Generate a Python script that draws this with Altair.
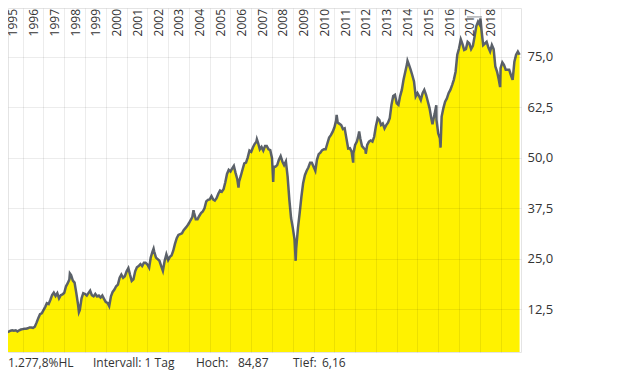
import altair as alt
import pandas as pd
from datetime import datetime, timezone

# ---- data (monthly, index level) ----
start_value = 6.5  # Dec 1994
values_by_year = {
    1995: [6.4, 6.6, 6.7, 6.8, 7.0, 7.2, 7.3, 7.2, 7.3, 7.0, 7.3, 7.5],
    1996: [7.6, 7.7, 7.7, 7.8, 8.0, 8.0, 7.9, 8.2, 9.2, 10.3, 11.3, 11.5],
    1997: [12.3, 13.1, 14.0, 13.8, 14.8, 16.0, 16.6, 15.8, 16.5, 15.2, 16.0, 16.2],
    1998: [16.6, 18.2, 18.9, 19.9, 21.0, 19.6, 19.1, 16.5, 13.6, 12.3, 15.2, 16.5],
    1999: [16.3, 15.9, 16.5, 17.1, 16.0, 15.7, 16.3, 15.7, 15.9, 15.4, 15.9, 15.1],
    2000: [14.3, 14.1, 13.3, 15.7, 16.8, 17.4, 18.2, 18.6, 20.3, 21.1, 20.3, 20.7],
    2001: [21.9, 22.7, 21.1, 19.5, 19.9, 21.9, 22.9, 23.2, 23.7, 23.2, 24.0, 24.0],
    2002: [23.6, 22.8, 25.3, 26.8, 26.8, 25.3, 24.9, 24.5, 23.2, 22.0, 24.5, 26.1],
    2003: [24.7, 25.5, 25.8, 27.0, 28.7, 30.1, 30.9, 31.1, 31.3, 32.1, 32.6, 33.1],
    2004: [33.8, 34.6, 35.3, 36.4, 34.8, 34.8, 35.6, 36.3, 36.7, 37.5, 39.2, 39.6],
    2005: [39.7, 40.5, 39.7, 39.4, 40.0, 41.1, 41.9, 41.6, 42.2, 43.9, 46.0, 47.0],
    2006: [46.6, 47.4, 48.0, 46.2, 44.7, 44.1, 45.5, 47.1, 48.6, 48.8, 50.1, 51.8],
    2007: [51.5, 52.6, 53.4, 54.0, 53.7, 52.1, 52.7, 51.8, 52.9, 52.9, 52.1, 51.9],
    2008: [49.9, 47.8, 47.8, 48.2, 49.5, 50.4, 49.1, 48.2, 49.1, 45.4, 39.6, 35.1],
    2009: [32.6, 29.7, 27.6, 32.6, 36.3, 40.4, 43.7, 45.7, 46.8, 47.6, 48.8, 48.8],
    2010: [47.8, 46.8, 49.5, 50.9, 51.3, 51.9, 52.1, 52.1, 53.6, 55.0, 55.6, 56.4],
    2011: [57.5, 59.2, 58.7, 58.4, 58.1, 57.1, 57.3, 54.8, 52.3, 52.4, 51.5, 51.1],
    2012: [53.2, 54.0, 55.6, 54.8, 52.9, 52.4, 52.0, 53.2, 54.0, 54.3, 54.0, 55.2],
    2013: [57.9, 59.8, 59.4, 58.1, 58.5, 57.3, 58.1, 58.7, 59.8, 63.1, 65.3, 65.6],
    2014: [63.5, 63.1, 65.2, 66.8, 69.3, 71.3, 73.2, 73.2, 71.9, 70.5, 68.9, 65.2],
    2015: [66.0, 65.2, 64.3, 66.0, 66.8, 65.6, 64.0, 62.3, 59.8, 59.0, 61.0, 59.4],
    2016: [56.0, 54.8, 60.2, 62.3, 63.9, 64.7, 66.0, 66.8, 68.0, 69.3, 71.3, 75.5],
    2017: [77.1, 79.3, 78.2, 76.7, 76.9, 78.7, 78.3, 76.9, 77.7, 80.0, 82.6, 83.7],
    2018: [82.9, 81.5, 77.9, 78.3, 78.7, 77.3, 76.3, 77.9, 76.9, 72.6, 71.3, 69.3],
    2019: [72.2, 73.6, 73.0, 71.8, 71.8, 71.8, 70.5, 69.3, 73.8, 75.5, 76.3, 75.5],
}
# intra-month peaks and troughs
extreme_dates = ["1998-04-10", "1998-09-16", "2002-04-20", "2004-03-22", "2006-05-22",
                 "2007-04-10", "2008-01-22", "2009-02-20", "2011-02-10", "2011-11-28",
                 "2012-03-12", "2012-07-06", "2014-07-10", "2015-09-22", "2015-11-28",
                 "2016-02-11", "2018-01-12", "2018-12-24"]
extreme_values = [21.4, 11.8, 27.5, 37.0, 42.6,
                  54.6, 44.0, 24.5, 60.6, 48.8,
                  56.5, 51.0, 74.0, 58.3, 63.0,
                  52.5, 84.5, 67.5]
year_labels = list(range(1995, 2019))
grid_years = list(range(1996, 2020))
y_ticks = [12.5, 25.0, 37.5, 50.0, 62.5, 75.0]
high_value = 84.87
high_span = ["2017-05-20", "2018-02-08"]
footer_texts = ["1.277,8%HL", "Intervall: 1 Tag", "Hoch:", "84,87", "Tief:", "6,16"]

# ---- build table ----
dates = ["1994-12-01"]
vals = [start_value]
for yr, arr in values_by_year.items():
    for i, v in enumerate(arr):
        dates.append(f"{yr}-{i + 1:02d}-01")
        vals.append(v)
dates += extreme_dates
vals += extreme_values
df = pd.DataFrame({"date": dates, "value": vals}).sort_values("date").reset_index(drop=True)


def ms(y, m, d):
    return int(datetime(y, m, d, tzinfo=timezone.utc).timestamp() * 1000)


x_domain = [ms(1995, 4, 18), ms(2019, 12, 26)]
y_domain = [1.93, 87.08]

FONT = "Open Sans"
TXT = "#333333"

xscale = alt.Scale(domain=x_domain)
yscale = alt.Scale(domain=y_domain, zero=False, nice=False)

x_axis = alt.Axis(values=[ms(y, 1, 1) for y in grid_years], labels=False, ticks=False,
                  domain=False, title=None, grid=True, gridColor="#000000",
                  gridOpacity=0.075, zindex=1)
y_axis = alt.Axis(orient="right", values=y_ticks, ticks=False, domain=False, title=None,
                  grid=True, gridColor="#000000", gridOpacity=0.075, zindex=1,
                  labelExpr="replace(format(datum.value, '.1f'), '.', ',')",
                  labelFont=FONT, labelFontSize=13, labelColor=TXT, labelPadding=6)

X = alt.X("date:T", scale=xscale, axis=x_axis)
Y = alt.Y("value:Q", scale=yscale, axis=y_axis)

area = alt.Chart(df).mark_area(color="#fff200", clip=True).encode(x=X, y=Y)
line = alt.Chart(df).mark_line(color="#5b6169", strokeWidth=2.5, clip=True).encode(x=X, y=Y)

hi_df = pd.DataFrame({"date": [high_span[0]], "d2": [high_span[1]], "value": [high_value]})
hi_rule = alt.Chart(hi_df).mark_rule(color="#8a8f95", strokeWidth=1).encode(
    x=X, x2="d2:T", y=Y,
)

ylab_df = pd.DataFrame({"date": [f"{y}-07-01" for y in year_labels],
                        "t": [str(y) for y in year_labels]})
year_text = alt.Chart(ylab_df).mark_text(
    angle=270, align="right", baseline="middle", font=FONT, fontSize=12, color=TXT,
    xOffset=1
).encode(
    x=X,
    y=alt.value(1),
    text="t:N",
)

footer_x = [0, 85, 188, 230, 285, 314]
footer_layers = []
for t, xx in zip(footer_texts, footer_x):
    footer_layers.append(
        alt.Chart(pd.DataFrame({"t": [t]})).mark_text(
            align="left", baseline="alphabetic", font=FONT, fontSize=12, color=TXT
        ).encode(x=alt.value(xx), y=alt.value(359), text="t:N")
    )

chart = alt.layer(area, line, hi_rule, year_text, *footer_layers).properties(
    width=513, height=344,
    autosize=alt.AutoSizeParams(type="none"),
    padding={"left": 0, "top": 0, "right": 80, "bottom": 18},
).configure_view(stroke="#e4e4e4", strokeWidth=1)

chart.save("out.html", embed_options={"renderer": "svg", "actions": False})
